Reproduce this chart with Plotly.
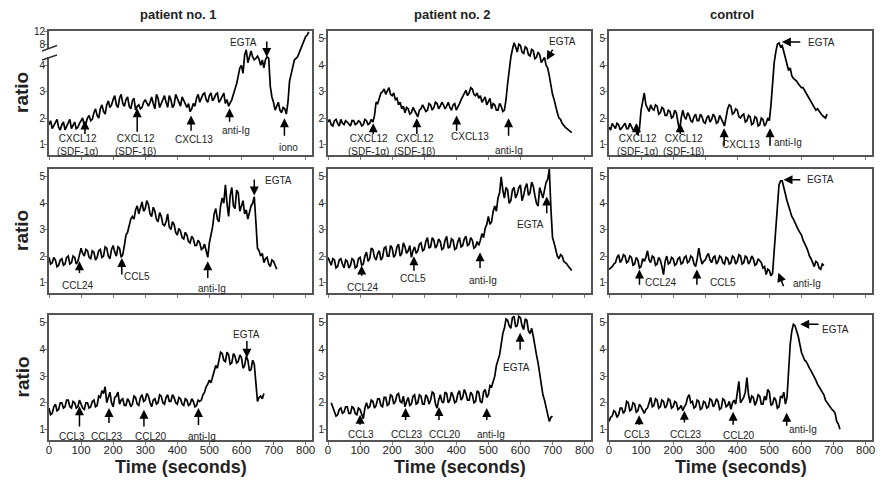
import numpy as np
import plotly.graph_objects as go

W, H = 882, 480
STEP = 5  # seconds between samples

# ---------------- data (ratio values, sampled every 5 s) ----------------
t0_p1_r1 = 0
p1_r1 = [1.75,1.9,1.6,1.7,1.8,1.95,1.65,1.55,1.75,1.85,1.55,1.7,1.8,1.95,1.6,1.7,1.85,1.6,1.65,1.8,1.9,2.0,
         1.7,1.8,2.0,2.1,1.9,1.95,2.2,2.35,2.1,2.0,2.35,2.5,2.25,2.15,2.5,2.65,2.4,2.5,2.7,2.85,
         2.5,2.4,2.75,2.9,2.55,2.45,2.7,2.8,2.45,2.35,2.65,2.75,2.3,2.45,2.5,2.35,2.4,2.6,2.7,2.55,
         2.45,2.6,2.8,2.55,2.35,2.9,2.75,2.4,2.55,2.7,2.85,2.6,2.4,2.85,2.7,2.4,2.5,2.9,2.75,2.6,
         2.45,2.8,2.65,2.5,2.4,2.55,2.25,2.35,2.55,2.45,2.75,2.9,2.6,2.75,2.9,2.95,2.7,2.6,2.85,2.95,
         2.65,2.75,2.9,2.95,2.6,2.7,2.85,2.95,2.55,2.7,2.45,2.55,2.7,2.9,3.1,3.3,3.6,3.9,4.0,3.7,
         5.5,6.8,4.1,4.8,6.5,5.0,4.3,4.6,5.2,4.4,4.0,4.2,3.9,4.3,5.0,4.6,3.2,2.8,2.6,2.3,
         2.45,2.6,2.3,2.2,2.4,2.35,2.15,2.6,3.4,3.7,4.0,4.2,4.6,5.0,6.0,7.0,8.0,9.0,10.5,11.0,12.0]

t0_p2_r1 = 0
p2_r1 = [1.85,1.95,1.75,1.7,1.9,1.95,1.8,1.7,1.95,1.8,1.75,1.9,1.85,1.75,1.7,1.9,1.9,1.75,1.8,1.9,1.85,
         1.7,1.75,1.95,1.9,1.75,1.8,1.95,1.85,2.1,2.6,2.55,2.75,2.95,3.0,3.1,2.9,3.05,3.15,2.9,2.85,
         2.95,2.7,2.75,2.5,2.6,2.35,2.45,2.2,2.4,2.35,2.15,2.2,2.4,2.3,2.2,2.05,2.3,2.35,2.5,2.4,
         2.25,2.3,2.55,2.5,2.3,2.4,2.6,2.55,2.35,2.45,2.6,2.5,2.35,2.45,2.6,2.4,2.3,2.5,2.55,2.3,
         2.4,2.55,2.7,2.8,2.95,3.05,2.85,2.95,3.15,3.1,2.9,2.85,2.95,2.75,2.85,2.6,2.7,2.8,2.5,2.6,
         2.75,2.35,2.55,2.5,2.3,2.3,2.55,2.45,2.25,2.3,2.7,3.3,3.9,4.3,4.6,4.85,4.7,4.5,4.8,4.75,
         4.5,4.45,4.7,4.65,4.4,4.35,4.6,4.55,4.25,4.3,4.5,4.4,4.1,4.2,4.3,4.0,3.9,3.6,3.2,2.9,
         2.7,2.4,2.2,2.0,1.95,1.8,1.7,1.65,1.6,1.55,1.5,1.45]

t0_ctl_r1 = 0
ctl_r1 = [1.65,1.55,1.8,1.7,1.6,1.8,1.75,1.55,1.65,1.75,1.8,1.6,1.6,1.8,1.7,1.55,1.55,1.75,1.35,1.6,2.3,
          2.6,2.95,2.5,2.4,2.25,2.5,2.35,2.3,2.5,2.45,2.15,2.2,2.4,2.35,2.1,2.1,2.3,2.25,2.0,2.05,
          2.3,2.2,1.9,1.5,2.0,2.3,2.05,1.95,2.2,2.1,1.9,1.85,2.05,2.15,1.9,1.9,2.15,2.05,1.85,1.8,
          2.0,2.1,1.85,1.95,2.15,2.05,1.8,1.85,2.1,2.0,1.85,1.7,2.0,2.35,2.5,2.45,2.15,2.2,2.35,2.3,
          2.05,2.0,2.1,2.15,1.85,1.9,2.1,2.05,1.75,1.8,2.05,2.0,1.7,1.75,2.0,1.95,1.7,1.8,2.0,1.9,
          2.5,3.4,4.1,4.5,4.8,4.85,4.7,4.75,4.5,4.3,3.95,3.8,3.9,3.6,3.5,3.45,3.4,3.3,3.2,3.15,
          3.15,3.05,2.9,2.85,2.7,2.6,2.5,2.45,2.3,2.35,2.25,2.2,2.1,2.05,2.0,2.15]

t0_p1_r2 = 0
p1_r2 = [1.95,1.7,1.75,1.95,1.85,1.6,1.65,1.85,1.9,1.65,1.7,1.95,2.0,1.7,1.75,2.0,1.95,1.7,1.8,2.05,2.3,
         2.1,2.0,2.25,2.2,1.95,1.9,2.2,2.15,1.85,1.95,2.2,2.25,1.95,2.0,2.35,2.3,2.0,1.9,2.25,2.4,
         2.15,2.0,2.35,2.3,1.95,2.05,2.4,2.8,2.9,3.2,3.4,3.5,3.4,3.75,3.9,3.6,3.8,4.05,3.7,3.8,
         4.1,3.95,3.6,3.5,3.85,3.7,3.4,3.3,3.65,3.5,3.2,3.15,3.3,3.6,3.1,3.0,3.3,3.2,2.9,2.8,
         3.05,2.95,2.7,2.65,2.9,2.8,2.55,2.5,2.75,2.65,2.4,2.4,2.6,2.5,2.25,2.3,2.45,2.15,1.95,2.5,
         2.8,3.1,3.6,3.8,3.4,3.3,3.9,4.2,4.0,4.7,4.0,3.5,4.3,4.6,3.9,3.8,4.5,4.4,3.7,3.9,
         4.1,3.6,3.75,3.4,3.7,3.9,4.0,4.25,3.3,2.3,2.2,2.0,2.1,1.75,1.9,1.95,1.7,1.6,1.85,1.8,1.65,1.5]

t0_p2_r2 = 0
p2_r2 = [1.95,1.8,1.65,1.9,1.85,1.55,1.6,1.85,1.9,1.7,1.55,1.85,1.8,1.55,1.65,1.9,1.85,1.55,1.6,1.9,1.95,
         1.65,1.7,2.0,2.15,1.8,1.9,2.3,2.25,1.95,1.85,2.1,2.2,1.85,1.95,2.3,2.35,2.0,2.0,2.4,2.3,
         1.95,2.05,2.35,2.45,2.0,2.1,2.5,2.35,2.1,2.2,2.4,1.95,2.2,2.35,2.1,2.2,2.45,2.5,2.2,2.25,
         2.55,2.7,2.3,2.35,2.7,2.6,2.3,2.4,2.65,2.55,2.25,2.3,2.6,2.75,2.3,2.35,2.65,2.6,2.25,2.3,
         2.55,2.7,2.35,2.4,2.65,2.75,2.4,2.45,2.7,2.6,2.3,2.35,2.55,2.4,2.6,2.85,2.7,3.05,3.2,3.5,
         3.2,3.3,3.7,3.9,3.7,4.2,4.4,5.0,4.5,4.2,4.6,4.5,4.0,4.1,4.5,4.6,4.2,4.35,4.6,4.7,
         4.1,4.3,4.6,4.75,4.3,4.4,4.8,4.65,4.3,4.0,3.9,4.6,4.4,4.2,4.5,4.8,4.9,5.3,3.8,2.7,
         2.5,2.2,2.0,1.9,2.05,2.0,1.8,1.75,1.7,1.6,1.5,1.45]

t0_ctl_r2 = 0
ctl_r2 = [1.5,1.55,1.6,1.7,1.75,1.95,2.05,1.75,1.85,2.05,2.0,1.75,1.8,2.0,1.95,1.65,1.7,1.95,1.85,1.55,1.6,
          1.9,1.8,1.95,2.2,1.85,1.75,2.0,1.95,1.65,1.7,1.95,1.85,1.6,1.3,1.8,2.0,1.7,1.75,1.95,1.9,
          1.65,1.7,1.9,1.95,1.7,1.75,1.95,2.0,1.75,1.8,2.0,1.95,1.7,1.6,1.9,2.3,1.95,1.7,1.8,1.85,
          2.0,2.1,1.85,1.75,1.95,2.0,1.7,1.8,2.0,1.95,1.75,1.7,1.95,1.9,1.7,1.75,2.0,1.95,1.7,1.8,
          2.05,2.0,1.7,1.75,2.0,1.95,1.7,1.8,2.0,1.9,1.65,1.7,1.9,1.8,1.75,1.55,1.6,1.3,1.5,1.45,
          1.25,1.35,2.2,3.4,4.2,4.7,4.85,4.85,4.6,4.3,4.1,3.9,3.7,3.5,3.4,3.25,3.1,3.0,2.9,2.8,
          2.6,2.5,2.35,2.2,2.0,1.9,1.75,1.6,1.8,1.75,1.55,1.5,1.7,1.65]

t0_p1_r3 = 0
p1_r3 = [1.8,1.55,1.6,1.85,1.95,1.7,1.75,2.0,2.0,1.8,1.85,2.1,2.1,1.85,1.8,2.05,2.0,1.8,1.85,2.1,1.95,
         1.8,1.75,2.0,2.0,1.8,1.85,2.05,2.1,1.85,1.9,2.25,2.2,2.45,2.35,2.6,2.0,2.25,2.4,2.0,1.85,
         2.2,2.25,2.4,1.95,2.1,2.15,1.9,1.9,2.15,2.05,1.85,1.95,2.25,2.2,1.95,1.9,2.2,2.3,2.05,2.1,
         2.35,2.25,2.0,1.85,2.1,2.15,1.95,2.0,2.3,2.25,2.0,1.95,2.2,2.3,2.05,2.05,2.3,2.2,2.0,1.95,
         2.2,2.15,1.95,1.9,2.15,2.1,1.9,1.95,2.15,2.05,1.85,1.9,2.1,2.05,2.1,2.3,2.4,2.6,2.7,2.85,
         2.75,3.0,3.2,3.4,3.3,3.6,3.9,3.85,3.6,3.55,3.9,3.8,3.45,3.5,3.85,3.75,3.5,3.55,3.8,3.7,
         3.3,3.4,3.75,3.6,3.2,3.25,3.6,3.45,2.6,2.05,2.2,2.25,2.15,2.35]

t0_p2_r3 = 10
p2_r3 = [2.0,1.85,1.7,1.5,1.55,1.75,1.8,1.6,1.65,1.85,1.85,1.6,1.6,1.85,1.8,1.6,1.55,1.8,1.75,
         1.6,1.4,1.8,2.0,1.8,1.85,2.1,2.05,1.8,1.9,2.15,2.15,1.9,1.85,2.2,2.2,1.9,1.95,2.3,2.25,
         1.95,2.05,2.3,2.35,2.05,2.0,2.25,1.85,2.05,2.2,1.9,1.95,2.25,2.3,1.95,2.0,2.3,2.25,1.95,1.95,
         2.3,2.2,1.95,2.1,2.4,2.35,1.95,1.8,2.1,2.3,2.05,2.0,2.4,2.35,2.0,2.1,2.4,2.25,2.0,2.05,
         2.35,2.45,2.1,2.2,2.5,2.35,2.1,2.1,2.4,2.3,2.0,2.05,2.45,2.4,2.05,2.0,2.4,2.5,2.2,2.3,
         2.65,2.6,2.8,3.0,3.4,3.6,3.8,4.2,4.6,4.8,5.15,5.1,4.9,4.8,5.2,5.25,4.85,4.9,5.25,5.2,
         4.9,4.75,5.15,5.1,4.7,4.6,4.8,4.5,4.1,3.8,3.5,3.1,2.7,2.3,2.1,1.85,1.6,1.3,1.45,1.5]

t0_ctl_r3 = 0
ctl_r3 = [1.3,1.45,1.5,1.7,1.65,1.45,1.55,1.8,1.8,1.6,1.7,2.05,2.0,1.7,1.75,2.0,1.95,1.65,1.7,1.95,1.85,
          1.7,1.6,1.75,1.8,2.0,2.2,1.85,1.9,2.15,2.1,1.8,1.85,2.1,2.05,1.8,1.9,2.15,2.1,1.8,1.85,
          2.05,2.0,1.75,1.8,1.9,1.7,1.85,1.95,2.2,2.3,2.0,2.05,1.8,1.85,2.1,2.05,1.75,1.8,2.05,2.0,
          1.8,1.85,2.15,2.1,1.85,1.95,2.15,2.05,1.75,1.8,2.15,2.1,1.85,1.9,2.05,1.75,2.0,2.1,1.95,2.5,
          2.8,2.0,2.1,2.2,2.4,2.95,2.3,2.0,2.25,2.2,1.9,2.05,2.3,2.25,1.95,1.95,2.25,2.1,2.5,2.4,
          1.9,1.95,2.2,2.1,1.8,1.85,2.25,2.2,2.4,1.95,2.2,3.5,4.2,4.7,4.95,4.9,4.7,4.5,4.2,3.9,
          3.75,3.6,3.55,3.4,3.3,3.2,3.1,3.0,2.85,2.7,2.6,2.5,2.4,2.3,2.1,2.0,1.95,1.85,1.75,1.7,
          1.6,1.3,1.2,1.0]

x_tick_vals = [0, 100, 200, 300, 400, 500, 600, 700, 800]
y_tick_vals = [1, 2, 3, 4, 5]
broken_tick_vals = [1, 2, 3, 4, 8, 12]
column_titles = ["patient no. 1", "patient no. 2", "control"]

# broken axis (patient 1, row 1): lower part linear, upper part compressed
brk_real = [0, 4.2, 8, 12]
brk_disp = [0, 4.2, 4.77, 5.27]
def brk(v):
    return np.interp(v, brk_real, brk_disp)

series = [
    (t0_p1_r1, p1_r1, True), (t0_p2_r1, p2_r1, False), (t0_ctl_r1, ctl_r1, False),
    (t0_p1_r2, p1_r2, False), (t0_p2_r2, p2_r2, False), (t0_ctl_r2, ctl_r2, False),
    (t0_p1_r3, p1_r3, False), (t0_p2_r3, p2_r3, False), (t0_ctl_r3, ctl_r3, False),
]

# ---------------- layout geometry (pixels) ----------------
col_px = [(49, 312), (328, 591), (609, 872)]
row_px = [(31, 155), (169, 293), (315, 440)]
XR = [0, 820]
YR = [0.6, 5.3]

FONT = "Liberation Sans, Arial, sans-serif"
fig = go.Figure()
layout = dict(width=W, height=H, margin=dict(l=0, r=0, t=0, b=0, pad=0), autosize=False,
              paper_bgcolor="white", plot_bgcolor="white", showlegend=False,
              font=dict(family=FONT, color="#222"))

for i, (t0, vals, broken) in enumerate(series):
    r, c = divmod(i, 3)
    n = i + 1
    sfx = "" if n == 1 else str(n)
    tt = [t0 + STEP * k for k in range(len(vals))]
    yy = brk(vals) if broken else vals
    fig.add_trace(go.Scatter(x=tt, y=yy, mode="lines", line=dict(color="black", width=1.7),
                             xaxis="x" + sfx, yaxis="y" + sfx, hoverinfo="skip"))
    x0, x1 = col_px[c]
    y0, y1 = row_px[r]
    layout["xaxis" + sfx] = dict(
        domain=[x0 / W, x1 / W], range=XR, anchor="y" + sfx, tickvals=x_tick_vals,
        showticklabels=(r == 2), ticks="outside", ticklen=3, tickcolor="#777",
        ticklabelstandoff=-5,
        showline=True, linewidth=2, linecolor="#555", mirror=True, automargin=False,
        showgrid=False, zeroline=False, tickfont=dict(size=11.5, color="#222"))
    ya = dict(
        domain=[1 - y1 / H, 1 - y0 / H], range=YR, anchor="x" + sfx, tickvals=y_tick_vals,
        ticks="outside", ticklen=3, tickcolor="#777", automargin=False, ticklabelstandoff=-3,
        showline=True, linewidth=2, linecolor="#555", mirror=True,
        showgrid=False, zeroline=False, tickfont=dict(size=10, color="#222"))
    if broken:
        ya["tickvals"] = list(brk(broken_tick_vals))
        ya["ticktext"] = [str(v) for v in broken_tick_vals]
    layout["yaxis" + sfx] = ya

fig.update_layout(**layout)

ann = []

def ref(n):
    s = "" if n == 1 else str(n)
    return "x" + s, "y" + s

def arrow(n, xt, yt, xs, ys):
    xr, yr = ref(n)
    ann.append(dict(x=xt, y=yt, ax=xs, ay=ys, xref=xr, yref=yr, axref=xr, ayref=yr,
                    showarrow=True, arrowhead=2, arrowsize=1.2, arrowwidth=1.5,
                    arrowcolor="black", text=""))

def label(n, x, y, text, size=10):
    xr, yr = ref(n)
    ann.append(dict(x=x, y=y, xref=xr, yref=yr, text=text, showarrow=False,
                    xanchor="center", yanchor="middle",
                    font=dict(size=size, color="#222", family=FONT)))

# panel 1: patient 1, CXCL chemokines (broken axis)
arrow(1, 112, 1.91, 112, 1.34); label(1, 88, 0.97, "CXCL12<br>(SDF-1α)")
arrow(1, 275, 2.37, 275, 1.42); label(1, 271, 0.97, "CXCL12<br>(SDF-1β)")
arrow(1, 443, 2.1, 443, 1.46); label(1, 453, 1.19, "CXCL13")
arrow(1, 563, 2.37, 563, 1.8); label(1, 583, 1.53, "anti-Ig")
arrow(1, 679, 4.31, 679, 4.96); label(1, 606, 4.85, "EGTA")
arrow(1, 734, 1.99, 734, 1.27); label(1, 748, 0.89, "iono")
# panel 2
arrow(2, 141, 1.8, 141, 1.34); label(2, 125, 0.97, "CXCL12<br>(SDF-1α)")
arrow(2, 277, 1.99, 277, 1.34); label(2, 271, 0.97, "CXCL12<br>(SDF-1β)")
arrow(2, 401, 2.1, 401, 1.46); label(2, 443, 1.3, "CXCL13")
arrow(2, 563, 1.99, 563, 1.27); label(2, 563, 0.77, "anti-Ig")
arrow(2, 682, 4.2, 703, 4.65); label(2, 732, 4.89, "EGTA")
# panel 3
arrow(3, 86, 1.8, 86, 1.34); label(3, 88, 0.97, "CXCL12<br>(SDF-1α)")
arrow(3, 222, 1.8, 222, 1.34); label(3, 231, 0.97, "CXCL12<br>(SDF-1β)")
arrow(3, 359, 1.61, 359, 0.89); label(3, 412, 1.0, "CXCL13")
arrow(3, 502, 1.61, 502, 0.89); label(3, 559, 1.08, "anti-Ig")
arrow(3, 539, 4.88, 601, 4.88); label(3, 664, 4.88, "EGTA")
# panel 4
arrow(4, 95, 1.8, 95, 1.3); label(4, 91, 0.89, "CCL24")
arrow(4, 227, 1.93, 227, 1.24); label(4, 275, 1.22, "CCL5")
arrow(4, 495, 1.8, 495, 1.11); label(4, 509, 0.76, "anti-Ig")
arrow(4, 640, 4.3, 640, 4.96); label(4, 716, 4.86, "EGTA")
# panel 5
arrow(5, 105, 1.64, 105, 1.2); label(5, 110, 0.8, "CCL24")
arrow(5, 268, 1.99, 268, 1.39); label(5, 266, 1.14, "CCL5")
arrow(5, 474, 2.14, 474, 1.49); label(5, 483, 1.09, "anti-Ig")
arrow(5, 682, 4.26, 682, 3.57); label(5, 632, 3.19, "EGTA")
# panel 6
arrow(6, 95, 1.49, 95, 0.86); label(6, 161, 0.99, "CCL24")
arrow(6, 274, 1.49, 274, 0.86); label(6, 356, 0.99, "CCL5")
arrow(6, 528, 1.37, 546, 0.8); label(6, 618, 0.96, "anti-Ig")
arrow(6, 544, 4.89, 601, 4.89); label(6, 660, 4.89, "EGTA")
# panel 7
arrow(7, 95, 1.87, 95, 1.05); label(7, 71, 0.74, "CCL3")
arrow(7, 187, 1.8, 187, 1.18); label(7, 182, 0.74, "CCL23")
arrow(7, 296, 1.74, 296, 1.05); label(7, 317, 0.74, "CCL20")
arrow(7, 466, 1.8, 466, 1.11); label(7, 476, 0.74, "anti-Ig")
arrow(7, 617, 3.69, 617, 4.38); label(7, 617, 4.57, "EGTA")
# panel 8
arrow(8, 100, 1.55, 100, 1.12); label(8, 102, 0.8, "CCL3")
arrow(8, 242, 1.8, 242, 1.3); label(8, 246, 0.8, "CCL23")
arrow(8, 346, 1.84, 346, 1.3); label(8, 365, 0.8, "CCL20")
arrow(8, 495, 1.8, 495, 1.3); label(8, 509, 0.8, "anti-Ig")
arrow(8, 599, 4.63, 599, 3.94); label(8, 589, 3.34, "EGTA")
# panel 9
arrow(9, 94, 1.53, 94, 1.12); label(9, 86, 0.82, "CCL3")
arrow(9, 235, 1.7, 235, 1.2); label(9, 240, 0.82, "CCL23")
arrow(9, 387, 1.66, 387, 1.12); label(9, 405, 0.77, "CCL20")
arrow(9, 554, 1.62, 554, 1.08); label(9, 606, 0.99, "anti-Ig")
arrow(9, 596, 4.95, 658, 4.95); label(9, 705, 4.77, "EGTA")

# column titles
for c, txt in enumerate(column_titles):
    cx = [178, 452, 732][c]
    ann.append(dict(x=cx / W, y=1 - 14 / H, xref="paper", yref="paper", text="<b>%s</b>" % txt,
                    xanchor="center", yanchor="middle",
                    showarrow=False, font=dict(size=13, color="#222", family=FONT)))
# ratio labels
for r in range(3):
    cy = (row_px[r][0] + row_px[r][1]) / 2
    ann.append(dict(x=22 / W, y=1 - cy / H, xref="paper", yref="paper", text="<b>ratio</b>",
                    xanchor="center", yanchor="middle",
                    textangle=-90, showarrow=False, font=dict(size=19, color="#222", family=FONT)))
# time labels
for c in range(3):
    cx = (col_px[c][0] + col_px[c][1]) / 2
    ann.append(dict(x=cx / W, y=1 - 467 / H, xref="paper", yref="paper", text="<b>Time (seconds)</b>",
                    xanchor="center", yanchor="middle",
                    showarrow=False, font=dict(size=18, color="#222", family=FONT)))

fig.update_layout(annotations=ann)

# axis break marks on patient 1, row 1
shapes = [
    dict(type="rect", xref="paper", yref="paper", x0=46 / W, x1=55 / W,
         y0=1 - 57 / H, y1=1 - 49 / H, fillcolor="white", line=dict(width=0), layer="above"),
    dict(type="line", xref="paper", yref="paper", x0=42 / W, y0=1 - 51 / H, x1=57 / W, y1=1 - 45.5 / H,
         line=dict(color="#333", width=1.5)),
    dict(type="line", xref="paper", yref="paper", x0=42 / W, y0=1 - 60 / H, x1=57 / W, y1=1 - 55 / H,
         line=dict(color="#333", width=1.5)),
]
fig.update_layout(shapes=shapes)

fig.write_html("out.html", config={"displayModeBar": False},
               post_script="document.body.style.margin='0';document.body.style.overflow='hidden';")
